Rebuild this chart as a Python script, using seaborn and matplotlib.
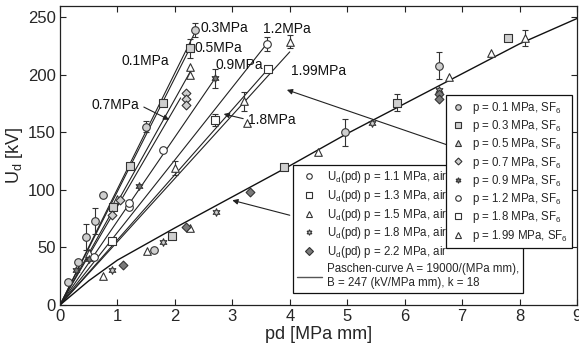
import matplotlib.pyplot as plt
from matplotlib.lines import Line2D
import seaborn as sns

# SF6 data: pd [MPa mm], Ud [kV], error bar half length [kV]
pd_sf6_01 = [0.14, 0.31, 0.45, 0.61, 0.75, 1.50, 2.35]
u_sf6_01 = [20, 37, 59, 73, 96, 155, 239]
err_sf6_01 = [0, 0, 11, 11, 0, 5, 6]

pd_sf6_03 = [0.93, 1.22, 1.80, 2.26]
u_sf6_03 = [85, 121, 176, 223]
err_sf6_03 = [0, 0, 0, 8]

pd_sf6_05 = [0.50, 1.00, 2.26, 2.26]
u_sf6_05 = [45, 92, 207, 200]
err_sf6_05 = [0, 0, 0, 0]

pd_sf6_07 = [0.90, 1.05, 2.20, 2.20, 2.20]
u_sf6_07 = [78, 91, 184, 179, 174]
err_sf6_07 = [0, 0, 0, 0, 0]

pd_sf6_09 = [0.28, 0.50, 1.38, 2.70]
u_sf6_09 = [30, 40, 103, 197]
err_sf6_09 = [0, 0, 0, 8]

pd_sf6_12 = [0.60, 1.20, 1.20, 1.80, 3.60]
u_sf6_12 = [42, 85, 89, 135, 227]
err_sf6_12 = [0, 0, 0, 0, 6]

pd_sf6_18 = [0.90, 2.70, 3.62]
u_sf6_18 = [56, 161, 205]
err_sf6_18 = [0, 5, 0]

pd_sf6_199 = [2.00, 3.20, 3.25, 4.00]
u_sf6_199 = [119, 177, 158, 229]
err_sf6_199 = [6, 8, 0, 6]

# fitted SF6 lines, drawn from the origin to these end points
fan_pd_end = [2.38, 2.27, 2.27, 2.10, 2.70, 3.60, 3.62, 4.00]
fan_u_end = [240, 224, 203, 180, 197, 227, 205, 220]

# air data
pd_air_11 = [1.64, 4.97, 6.60]
u_air_11 = [48, 150, 208]
err_air_11 = [0, 12, 12]

pd_air_13 = [1.95, 3.90, 5.86, 7.80]
u_air_13 = [60, 120, 176, 232]
err_air_13 = [0, 0, 7, 0]

pd_air_15 = [0.75, 1.51, 2.27, 4.50, 6.77, 7.50, 8.10]
u_air_15 = [25, 47, 67, 133, 198, 219, 232]
err_air_15 = [0, 0, 0, 0, 0, 0, 7]

pd_air_18 = [0.90, 1.80, 2.71, 5.43, 6.60]
u_air_18 = [30, 55, 81, 158, 187]
err_air_18 = [0, 0, 0, 0, 0]

pd_air_22 = [1.10, 2.20, 3.30, 6.60, 6.60]
u_air_22 = [35, 68, 98, 183, 179]
err_air_22 = [0, 0, 0, 0, 0]

# Paschen curve
paschen_pd = [0, 0.5, 1, 2, 3, 4, 5, 6, 7, 8, 9]
paschen_u = [0, 21, 39, 67, 94, 121, 149, 175, 201, 227, 249]

sns.set_theme(style='ticks')
plt.rcParams['font.family'] = ['Liberation Sans', 'DejaVu Sans']
plt.rcParams['mathtext.fontset'] = 'custom'
plt.rcParams['mathtext.rm'] = 'Liberation Sans'
plt.rcParams['mathtext.it'] = 'Liberation Sans:italic'

EDGE = '#333333'
LIGHT = '#cfcfcf'
DARK = '#7a7a7a'
STAR = (6, 1, 0)

fig, ax = plt.subplots(figsize=(5.79, 3.45), dpi=100)
fig.subplots_adjust(left=0.1036, right=0.9965, bottom=0.116, top=0.983)


def draw(pd, u, err, marker, face, size=30):
    sel = [i for i, e in enumerate(err) if e > 0]
    if sel:
        ax.errorbar([pd[i] for i in sel], [u[i] for i in sel],
                    yerr=[err[i] for i in sel], fmt='none', ecolor=EDGE,
                    elinewidth=0.8, capsize=2.5, capthick=0.8, zorder=2)
    sns.scatterplot(x=pd, y=u, marker=marker, s=size, color=face,
                    edgecolor=EDGE, linewidth=0.8, ax=ax, zorder=3)


# fan of SF6 lines
for xe, ye in zip(fan_pd_end, fan_u_end):
    sns.lineplot(x=[0, xe], y=[0, ye], color='#222222', lw=0.8,
                 estimator=None, sort=False, ax=ax, zorder=1)
sns.lineplot(x=paschen_pd, y=paschen_u, color='#111111', lw=1.0,
             estimator=None, sort=False, ax=ax, zorder=1)

draw(pd_sf6_01, u_sf6_01, err_sf6_01, 'o', LIGHT)
draw(pd_sf6_03, u_sf6_03, err_sf6_03, 's', LIGHT, 26)
draw(pd_sf6_05, u_sf6_05, err_sf6_05, '^', 'white')
draw(pd_sf6_07, u_sf6_07, err_sf6_07, 'D', LIGHT, 20)
draw(pd_sf6_09, u_sf6_09, err_sf6_09, STAR, DARK)
draw(pd_sf6_12, u_sf6_12, err_sf6_12, 'o', 'white')
draw(pd_sf6_18, u_sf6_18, err_sf6_18, 's', 'white', 26)
draw(pd_sf6_199, u_sf6_199, err_sf6_199, '^', 'white')

draw(pd_air_11, u_air_11, err_air_11, 'o', LIGHT)
draw(pd_air_13, u_air_13, err_air_13, 's', LIGHT, 26)
draw(pd_air_15, u_air_15, err_air_15, '^', 'white')
draw(pd_air_18, u_air_18, err_air_18, STAR, LIGHT)
draw(pd_air_22, u_air_22, err_air_22, 'D', DARK, 20)

# pressure labels
lab = dict(fontsize=10, va='center', color='#111111')
ax.text(2.45, 241, '0.3MPa', **lab)
ax.text(2.35, 223, '0.5MPa', **lab)
ax.text(1.07, 212, '0.1MPa', **lab)
ax.text(2.70, 209, '0.9MPa', **lab)
ax.text(3.53, 240, '1.2MPa', **lab)
ax.text(4.02, 203, '1.99MPa', **lab)
arr = dict(arrowstyle='-|>', color='#222222', lw=0.8, mutation_scale=8)
ax.annotate('0.7MPa', xy=(1.90, 161), xytext=(0.55, 174),
            arrowprops=dict(arr, relpos=(1, 0.5), shrinkA=1, shrinkB=0), **lab)
ax.annotate('1.8MPa', xy=(2.85, 166), xytext=(3.27, 161),
            arrowprops=dict(arr, relpos=(0, 0.5), shrinkA=1, shrinkB=0), **lab)
ax.annotate('', xy=(3.95, 187), xytext=(6.75, 139),
            arrowprops=dict(arr, shrinkA=0, shrinkB=0))
ax.annotate('', xy=(3.0, 91), xytext=(4.0, 78),
            arrowprops=dict(arr, shrinkA=0, shrinkB=0))

ax.set_xlim(0, 9)
ax.set_ylim(0, 260)
ax.set_xticks(range(0, 10))
ax.set_yticks(range(0, 251, 50))
ax.tick_params(direction='in', top=True, right=True, labelsize=12,
               length=4, width=0.8, color='#222222', pad=3)
for s in ax.spines.values():
    s.set_linewidth(0.9)
    s.set_color('#222222')
ax.set_xlabel('pd [MPa mm]', fontsize=13, labelpad=1)
ax.set_ylabel('U$_\\mathrm{d}$ [kV]', fontsize=13, labelpad=2)


def handle(marker, face, ms=4):
    return Line2D([], [], marker=marker, ls='none', mfc=face, mec=EDGE,
                  mew=0.8, ms=ms)


air_handles = [handle('o', 'white'), handle('s', 'white'), handle('^', 'white'),
               handle(STAR, LIGHT), handle('D', DARK, 4.5),
               Line2D([], [], color='#555555', lw=1.0)]
air_labels = ['U$_\\mathrm{d}$(pd) p = 1.1 MPa, air',
              'U$_\\mathrm{d}$(pd) p = 1.3 MPa, air',
              'U$_\\mathrm{d}$(pd) p = 1.5 MPa, air',
              'U$_\\mathrm{d}$(pd) p = 1.8 MPa, air',
              'U$_\\mathrm{d}$(pd) p = 2.2 MPa, air',
              'Paschen-curve A = 19000/(MPa mm),\nB = 247 (kV/MPa mm), k = 18']
leg_air = ax.legend(air_handles, air_labels, loc='lower left',
                    bbox_to_anchor=(0.45, 0.04), borderaxespad=0,
                    fontsize=8.3, frameon=True, fancybox=False,
                    edgecolor='#111111', framealpha=1, labelspacing=0.25,
                    handlelength=2.2, handletextpad=0.4, borderpad=0.35)
leg_air.get_frame().set_linewidth(0.9)
ax.add_artist(leg_air)

sf6_handles = [handle('o', LIGHT), handle('s', LIGHT), handle('^', LIGHT),
               handle('D', LIGHT, 3.5), handle(STAR, DARK), handle('o', 'white'),
               handle('s', 'white'), handle('^', 'white')]
sf6_labels = ['p = %s MPa, SF$_6$' % p for p in
              ['0.1', '0.3', '0.5', '0.7', '0.9', '1.2', '1.8', '1.99']]
leg_sf6 = ax.legend(sf6_handles, sf6_labels, loc='upper left',
                    bbox_to_anchor=(0.747, 0.702), borderaxespad=0,
                    fontsize=8.3, frameon=True, fancybox=False,
                    edgecolor='#111111', framealpha=1, labelspacing=0.2,
                    handlelength=1.2, handletextpad=0.6, borderpad=0.4)
leg_sf6.get_frame().set_linewidth(0.9)

fig.savefig('out.png', dpi=100)
